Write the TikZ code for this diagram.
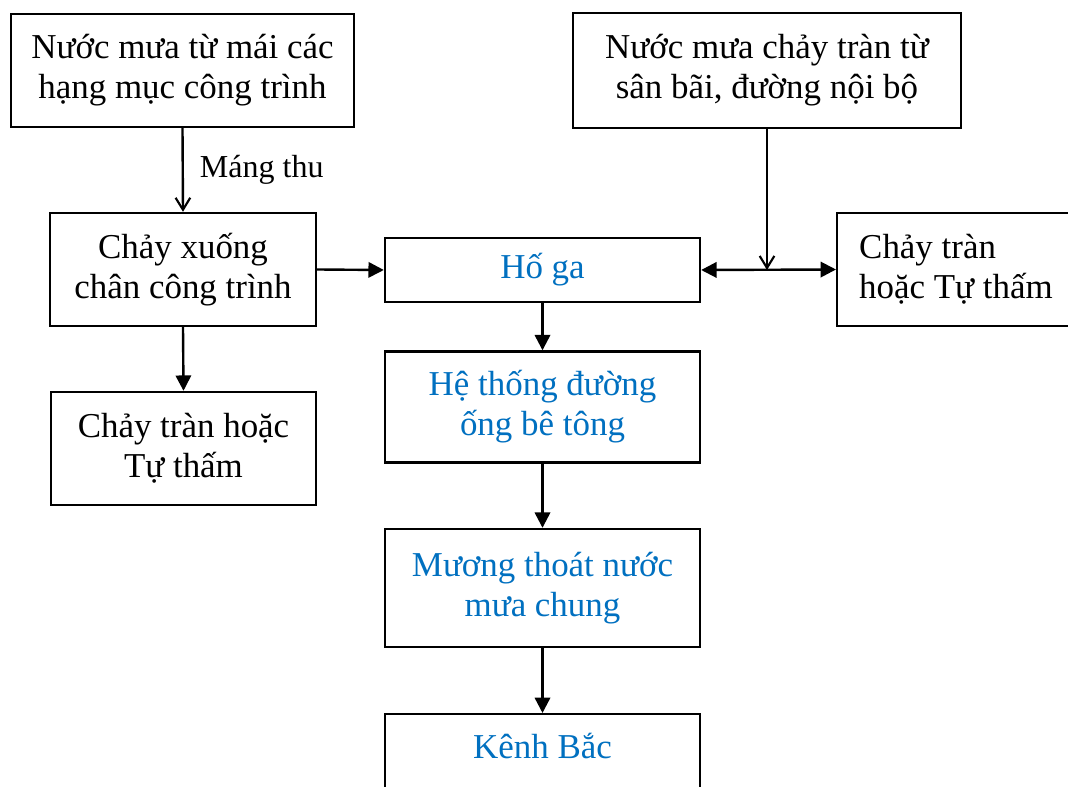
\documentclass[tikz,border=0pt]{standalone}
\usepackage{fontspec}
\setmainfont{Liberation Serif}
\usetikzlibrary{arrows.meta}
\definecolor{wordblue}{RGB}{0,112,192}
\tikzset{
  box/.style={draw=black, line width=1.8pt, rectangle, align=center, inner sep=0pt,
    font=\fontsize{26.2}{30}\selectfont, text=black},
  bluebox/.style={box, text=wordblue},
  conn/.style={line width=1.8pt, -{Triangle[length=11.5pt,width=11.5pt]}},
  openconn/.style={line width=1.8pt, -{Straight Barb[length=9pt,width=11pt,line width=1.6pt]}},
  dblconn/.style={line width=1.8pt, {Triangle[length=11.5pt,width=11.5pt]}-{Triangle[length=11.5pt,width=11.5pt]}},
  lbl/.style={font=\fontsize{24}{28}\selectfont, inner sep=0pt}
}
\begin{document}
\begin{tikzpicture}[x=0.75pt, y=-0.75pt]
\clip (0,0) rectangle (1068,787);
\fill[white] (0,0) rectangle (1068,787);
% boxes
\node[box, minimum width=257.25pt, minimum height=84.75pt] (roof) at (182.5,70.5)
  {Nước mưa từ mái các\\hạng mục công trình};
\node[box, minimum width=199.5pt, minimum height=84.75pt] (foot) at (183,269.5)
  {Chảy xuống\\chân công trình};
\node[box, minimum width=198.75pt, minimum height=84.75pt] (leftover) at (183.5,448.5)
  {Chảy tràn hoặc\\Tự thấm};
\node[box, minimum width=291pt, minimum height=86.25pt] (yard) at (767,70.5)
  {Nước mưa chảy tràn từ\\sân bãi, đường nội bộ};
\node[box, anchor=west, minimum height=84.75pt, text width=165pt, inner xsep=16.5pt, align=flush left] (rightover) at (836,269.5)
  {Chảy tràn\\hoặc Tự thấm};
\node[bluebox, minimum width=236.25pt, minimum height=48pt] (hoga) at (542.5,270)
  {Hố ga};
\node[bluebox, minimum width=236.25pt, minimum height=83.25pt] (pipe) at (542.5,407)
  {Hệ thống đường\\ống bê tông};
\node[bluebox, minimum width=236.25pt, minimum height=88.5pt] (ditch) at (542.5,588)
  {Mương thoát nước\\mưa chung};
\node[bluebox, anchor=north, minimum width=236.25pt, text height=25pt, text depth=60pt, inner ysep=8pt] (canal) at (542.5,713)
  {Kênh Bắc};
% connectors
\draw[openconn] (roof.south) -- (foot.north)
  node[lbl, pos=0.5, right=12pt] {Máng thu};
\draw[conn] (foot.south) -- (leftover.north);
\draw[conn] (foot.east) -- (hoga.west);
\coordinate (junc) at (yard.south |- hoga.east);
\draw[dblconn] (hoga.east) -- (rightover.west);
\draw[openconn] (yard.south) -- (junc);
\draw[conn] (hoga.south) -- (pipe.north);
\draw[conn] (pipe.south) -- (ditch.north);
\draw[conn] (ditch.south) -- (canal.north);
\end{tikzpicture}
\end{document}
